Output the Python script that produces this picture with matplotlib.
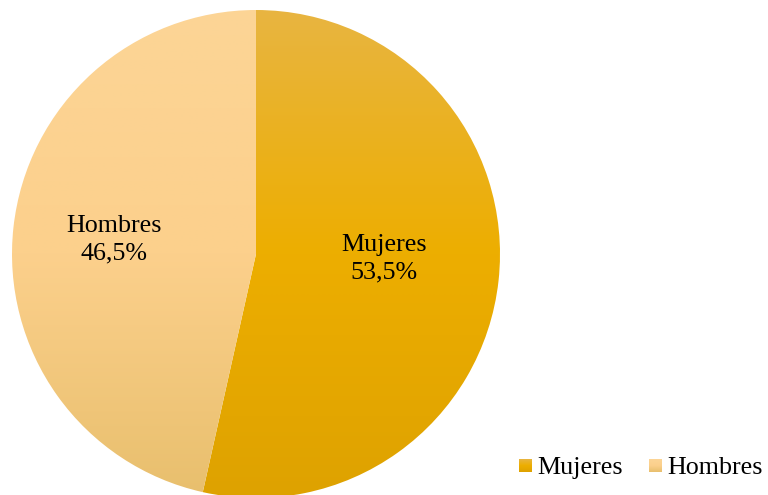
import numpy as np
import matplotlib.pyplot as plt
from matplotlib.colors import LinearSegmentedColormap

# datos: distribución por sexo
labels = ['Mujeres', 'Hombres']
values = [53.5, 46.5]

# degradado vertical de cada sector (arriba, centro, abajo)
top_colors = ['#E8B541', '#FCD596']
mid_colors = ['#EDAE00', '#FCD08C']
bottom_colors = ['#DEA200', '#E8BF6D']

plt.rcParams['font.family'] = ['Liberation Serif', 'DejaVu Serif']


def gradient(c_top, c_mid, c_bot, n=256):
    cmap = LinearSegmentedColormap.from_list('g', [c_top, c_mid, c_bot])
    return cmap(np.linspace(0, 1, n))[:, None, :3]


fig = plt.figure(figsize=(7.68, 4.95), dpi=100)
ax = fig.add_axes([0, 0, 1, 1])

cx, cy, r = 256, 241, 244
wedges, _ = ax.pie(values, center=(cx, cy), radius=r, startangle=90,
                   counterclock=False, frame=True,
                   wedgeprops=dict(facecolor='none', edgecolor='none'))

for w, ct, cm, cb in zip(wedges, top_colors, mid_colors, bottom_colors):
    im = ax.imshow(gradient(ct, cm, cb), extent=(cx - r, cx + r, cy - r, cy + r),
                   origin='upper', aspect='auto', interpolation='bilinear')
    im.set_clip_path(w)

# etiquetas de los sectores
label_pos = [(384, 236), (114, 255)]
for lab, v, (x, y) in zip(labels, values, label_pos):
    txt = f'{lab}\n{v:.1f}%'.replace('.', ',')
    ax.text(x, y, txt, ha='center', va='center', fontsize=18.7,
            linespacing=1.32, color='black')

# leyenda
leg_x = [519, 649]
for lab, x, ct, cm, cb in zip(labels, leg_x, top_colors, mid_colors, bottom_colors):
    ax.imshow(gradient(ct, cm, cb), extent=(x, x + 13, 23, 36),
              origin='upper', aspect='auto', interpolation='bilinear')
    ax.text(x + 18, 21, lab, ha='left', va='baseline', fontsize=18.7)

ax.set_xlim(0, 768)
ax.set_ylim(0, 495)
ax.set_aspect('equal')
ax.axis('off')

fig.savefig('out.png', dpi=100)
